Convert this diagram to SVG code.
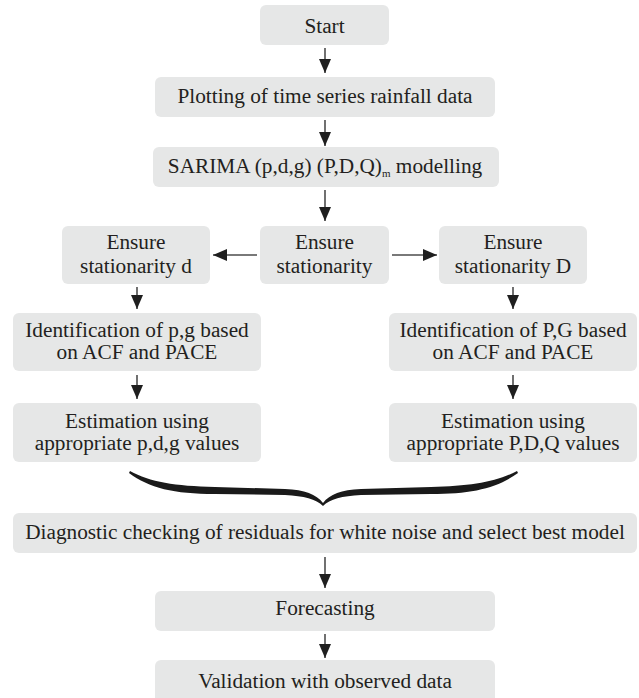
<svg xmlns="http://www.w3.org/2000/svg" width="639" height="698" viewBox="0 0 639 698">
<defs>
<style>
.box{fill:#e6e7e7;}
.t{font-family:"Liberation Serif","Times New Roman",serif;font-size:21.3px;fill:#231f20;text-anchor:middle;}
.c{stroke:#4d4d4d;stroke-width:1.6;fill:none;marker-end:url(#ah);}
</style>
<marker id="ah" markerWidth="14" markerHeight="12" refX="14" refY="6" orient="auto" markerUnits="userSpaceOnUse">
<path d="M0,0 L14,6 L0,12 Z" fill="#1f1f1f"/>
</marker>
</defs>
<rect width="639" height="698" fill="#ffffff"/>
<g id="start"><rect class="box" x="260" y="5" width="129" height="40" rx="6"/><text class="t" x="324.5" y="33">Start</text></g>
<g id="plotting"><rect class="box" x="155" y="77" width="340" height="40" rx="6"/><text class="t" x="325" y="103">Plotting of time series rainfall data</text></g>
<g id="sarima"><rect class="box" x="153" y="147" width="346" height="40" rx="6"/><text class="t" x="325" y="173">SARIMA (p,d,g) (P,D,Q)<tspan font-size="11" dy="4">m</tspan><tspan dy="-4"> modelling</tspan></text></g>
<g id="ensure"><rect class="box" x="260" y="226" width="129" height="58" rx="6"/><text class="t" x="324.5" y="249">Ensure</text><text class="t" x="324.5" y="273">stationarity</text></g>
<g id="ensure-d"><rect class="box" x="62" y="226" width="148" height="58" rx="6"/><text class="t" x="136" y="249">Ensure</text><text class="t" x="136" y="273">stationarity d</text></g>
<g id="ensure-D"><rect class="box" x="439" y="226" width="148" height="58" rx="6"/><text class="t" x="513" y="249">Ensure</text><text class="t" x="513" y="273">stationarity D</text></g>
<g id="ident-left"><rect class="box" x="13" y="313" width="248" height="58" rx="6"/><text class="t" x="137" y="337">Identification of p,g based</text><text class="t" x="137" y="359">on ACF and PACE</text></g>
<g id="ident-right"><rect class="box" x="389" y="313" width="248" height="58" rx="6"/><text class="t" x="513" y="337">Identification of P,G based</text><text class="t" x="513" y="359">on ACF and PACE</text></g>
<g id="est-left"><rect class="box" x="13" y="403" width="248" height="59" rx="6"/><text class="t" x="137" y="428">Estimation using</text><text class="t" x="137" y="450">appropriate p,d,g values</text></g>
<g id="est-right"><rect class="box" x="389" y="403" width="248" height="59" rx="6"/><text class="t" x="513" y="428">Estimation using</text><text class="t" x="513" y="450">appropriate P,D,Q values</text></g>
<g id="brace"><path d="M130,471 C150,482 175,486 215,487 L285,489 C305,490 316,494 323,503 C330,494 341,490 361,489 L431,487 C471,486 496,482 517,471 L518,473 C497,488 472,494 431,494 L361,495 C342,496 330,499 323,506 C316,499 304,496 285,495 L215,494 C174,494 149,488 129,473 Z" fill="#1a1a1a"/></g>
<g id="diagnostic"><rect class="box" x="13" y="513" width="624" height="40" rx="6"/><text class="t" x="325" y="539">Diagnostic checking of residuals for white noise and select best model</text></g>
<g id="forecasting"><rect class="box" x="155" y="591" width="340" height="40" rx="6"/><text class="t" x="325" y="615">Forecasting</text></g>
<g id="validation"><rect class="box" x="155" y="660" width="340" height="44" rx="6"/><text class="t" x="325" y="688">Validation with observed data</text></g>
<g id="connectors">
<line class="c" x1="325" y1="48" x2="325" y2="73"/>
<line class="c" x1="325" y1="120" x2="325" y2="146"/>
<line class="c" x1="325" y1="190" x2="325" y2="221"/>
<line class="c" x1="257" y1="255" x2="213" y2="255"/>
<line class="c" x1="392" y1="255" x2="437" y2="255"/>
<line class="c" x1="137" y1="287" x2="137" y2="309"/>
<line class="c" x1="513" y1="287" x2="513" y2="309"/>
<line class="c" x1="137" y1="375" x2="137" y2="399"/>
<line class="c" x1="513" y1="375" x2="513" y2="399"/>
<line class="c" x1="325" y1="557" x2="325" y2="588"/>
<line class="c" x1="325" y1="634" x2="325" y2="658"/>
</g>
</svg>
